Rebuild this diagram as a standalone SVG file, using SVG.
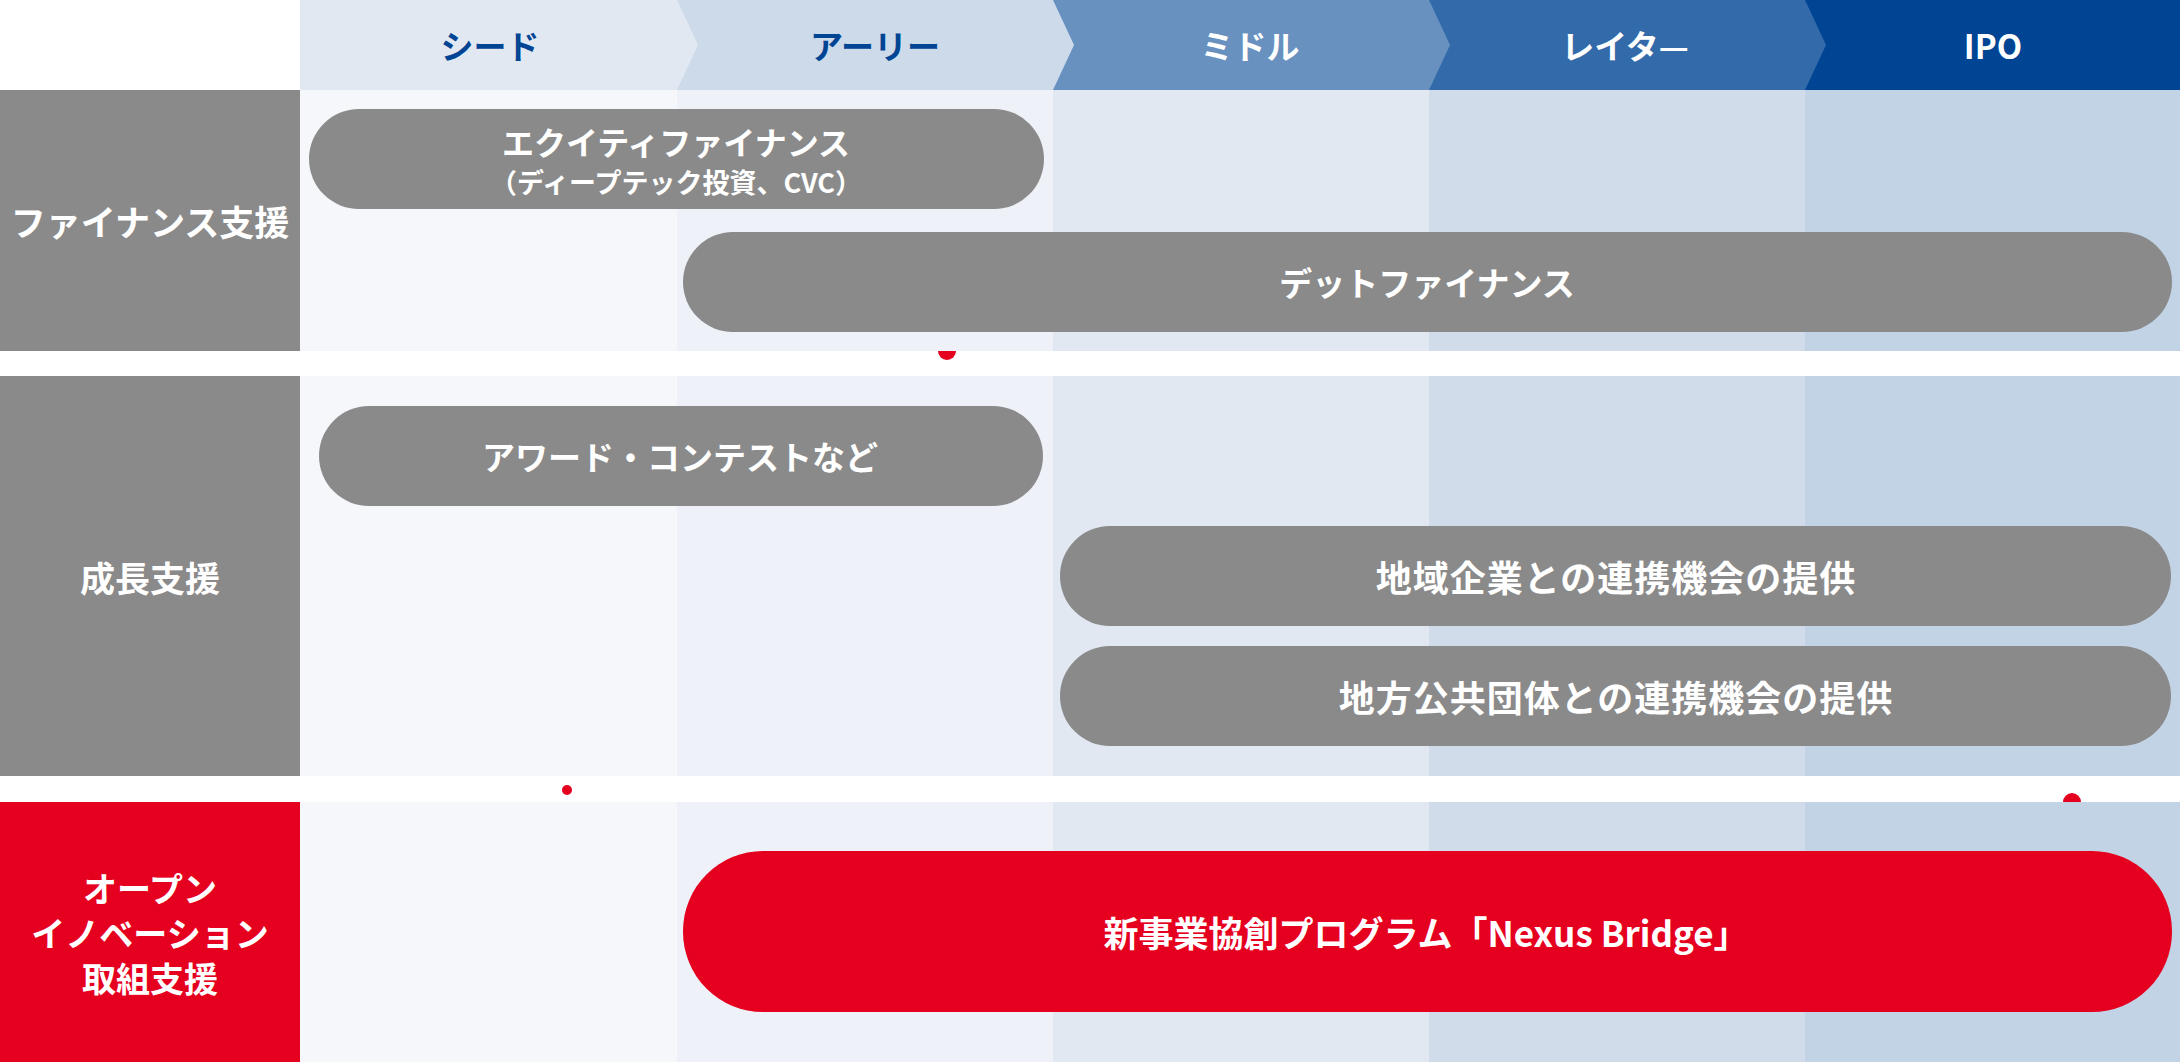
<svg xmlns="http://www.w3.org/2000/svg" width="2180" height="1062" viewBox="0 0 2180 1062">
<style>
text{font-family:"Noto Sans CJK JP","Noto Sans",sans-serif;font-weight:700;text-anchor:middle;dominant-baseline:central}
.w{fill:#ffffff}
.b{fill:#004494}
.pill{fill:#8a8a8a}
.red{fill:#e60020}
.c1{fill:#f5f7fb}.c2{fill:#eef2f8}.c3{fill:#e1e8f2}.c4{fill:#d1dcea}.c5{fill:#c3d3e6}
.h{font-size:33px}
.lbl{font-size:35px}
.lbl3{font-size:34px}
.t{font-size:33px}
.t1{font-size:32px}
.t2{font-size:27px}
.t3{font-size:36px;letter-spacing:1px}
.t4{font-size:35px}
</style>
<rect width="2180" height="1062" fill="#ffffff"/>
<g id="header">
<rect x="1805" y="0" width="375" height="90" fill="#004494"/>
<polygon points="1429,0 1805,0 1826,45 1805,90 1429,90" fill="#336aaa"/>
<polygon points="1053,0 1429,0 1450,45 1429,90 1053,90" fill="#6891c0"/>
<polygon points="677,0 1053,0 1074,45 1053,90 677,90" fill="#ccdaea"/>
<polygon points="300,0 677,0 698,45 677,90 300,90" fill="#e1e8f2"/>
<text class="h b" x="490" y="45">シード</text>
<text class="h b" x="875" y="45">アーリー</text>
<text class="h w" x="1250" y="45">ミドル</text>
<text class="h w" x="1625" y="45">レイタ—</text>
<text class="h w" x="1993" y="45">IPO</text>
</g>
<g id="dot1"><circle cx="947" cy="351" r="9" class="red"/></g>
<g id="dot3"><circle cx="2072" cy="802" r="9" class="red"/></g>
<g id="row-finance">
<rect x="0" y="90" width="300" height="261" fill="#8a8a8a"/>
<rect x="300" y="90" width="377" height="261" class="c1"/>
<rect x="677" y="90" width="376" height="261" class="c2"/>
<rect x="1053" y="90" width="376" height="261" class="c3"/>
<rect x="1429" y="90" width="376" height="261" class="c4"/>
<rect x="1805" y="90" width="375" height="261" class="c5"/>
<text class="lbl w" x="150" y="220">ファイナンス支援</text>
</g>
<g id="row-growth">
<rect x="0" y="376" width="300" height="400" fill="#8a8a8a"/>
<rect x="300" y="376" width="377" height="400" class="c1"/>
<rect x="677" y="376" width="376" height="400" class="c2"/>
<rect x="1053" y="376" width="376" height="400" class="c3"/>
<rect x="1429" y="376" width="376" height="400" class="c4"/>
<rect x="1805" y="376" width="375" height="400" class="c5"/>
<text class="lbl w" x="150" y="576">成長支援</text>
</g>
<g id="row-open">
<rect x="0" y="802" width="300" height="260" class="red"/>
<rect x="300" y="802" width="377" height="260" class="c1"/>
<rect x="677" y="802" width="376" height="260" class="c2"/>
<rect x="1053" y="802" width="376" height="260" class="c3"/>
<rect x="1429" y="802" width="376" height="260" class="c4"/>
<rect x="1805" y="802" width="375" height="260" class="c5"/>
<text class="lbl3 w" x="150" y="887">オープン</text>
<text class="lbl3 w" x="150" y="932">イノベーション</text>
<text class="lbl3 w" x="150" y="977">取組支援</text>
</g>
<g id="dot2"><circle cx="567" cy="790" r="5" class="red"/></g>
<g id="equity">
<rect x="309" y="109" width="735" height="100" rx="50" class="pill"/>
<text class="t1 w" x="676" y="141">エクイティファイナンス</text>
<text class="t2 w" x="676" y="181">（ディープテック投資、CVC）</text>
</g>
<g id="debt">
<rect x="683" y="232" width="1489" height="100" rx="50" class="pill"/>
<text class="t w" x="1427" y="282">デットファイナンス</text>
</g>
<g id="award">
<rect x="319" y="406" width="724" height="100" rx="50" class="pill"/>
<text class="t w" x="680" y="456">アワード・コンテストなど</text>
</g>
<g id="regional">
<rect x="1060" y="526" width="1111" height="100" rx="50" class="pill"/>
<text class="t3 w" x="1616" y="576">地域企業との連携機会の提供</text>
</g>
<g id="government">
<rect x="1060" y="646" width="1111" height="100" rx="50" class="pill"/>
<text class="t3 w" x="1616" y="696">地方公共団体との連携機会の提供</text>
</g>
<g id="nexus">
<rect x="683" y="851" width="1489" height="161" rx="80" class="red"/>
<text class="t4 w" x="1426" y="931">新事業協創プログラム「Nexus Bridge」</text>
</g>
<g id="connectors"/>
</svg>
